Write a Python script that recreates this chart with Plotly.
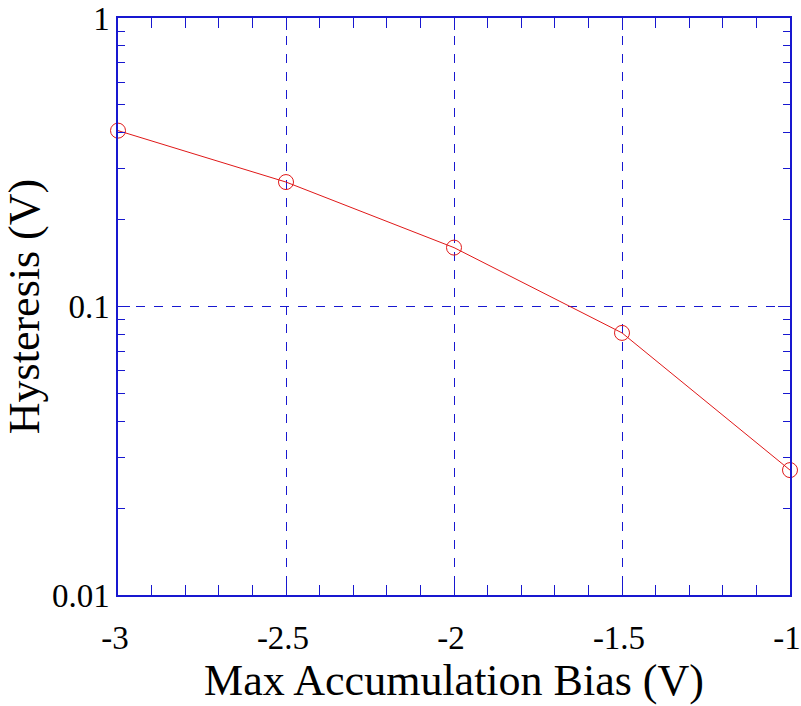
import plotly.graph_objects as go

bias = [-3, -2.5, -2, -1.5, -1]
hysteresis = [0.407, 0.270, 0.160, 0.081, 0.0271]
x_ticks = [-3, -2.5, -2, -1.5, -1]
x_tick_labels = ["-3", "-2.5", "-2", "-1.5", "-1"]
y_ticks = [0.01, 0.1, 1]
y_tick_labels = ["0.01", "0.1", "1"]

FONT = "Liberation Serif"
BLUE = "#1818d0"
RED = "#e01818"

fig = go.Figure()
fig.add_trace(go.Scatter(
    x=bias, y=hysteresis, mode="lines+markers",
    line=dict(color=RED, width=1),
    marker=dict(symbol="circle-open", size=15, color=RED, line=dict(width=1, color=RED)),
    cliponaxis=False, showlegend=False,
))

fig.update_layout(
    width=801, height=706,
    margin=dict(l=118, r=11, t=18, b=111),
    paper_bgcolor="white", plot_bgcolor="white",
    font=dict(family=FONT, color="black", size=33),
)
fig.update_xaxes(
    range=[-3, -1], tickvals=x_ticks, ticktext=x_tick_labels,
    ticks="inside", ticklen=12, tickcolor=BLUE, tickwidth=1,
    showline=True, linecolor=BLUE, linewidth=1.5, mirror="allticks",
    showgrid=True, gridcolor=BLUE, griddash="dash", gridwidth=1,
    zeroline=False, automargin=False, ticklabelstandoff=13,
    ticklabeloverflow="allow", ticklabelshift=-3,
    tickfont=dict(family=FONT, size=33, color="black"),
    minor=dict(dtick=0.1, ticks="inside", ticklen=10, tickcolor=BLUE,
               showgrid=False, gridcolor=BLUE),
    title=dict(text="Max Accumulation Bias (V)", font=dict(family=FONT, size=44), standoff=2),
)
fig.update_yaxes(
    type="log", range=[-2, 0], tickvals=y_ticks, ticktext=y_tick_labels,
    ticks="inside", ticklen=12, tickcolor=BLUE, tickwidth=1,
    showline=True, linecolor=BLUE, linewidth=1.5, mirror="allticks",
    showgrid=True, gridcolor=BLUE, griddash="dash", gridwidth=1,
    zeroline=False, automargin=False, ticklabeloverflow="allow",
    tickfont=dict(family=FONT, size=33, color="black"),
    minor=dict(dtick="D1", ticks="inside", ticklen=7, tickcolor=BLUE,
               showgrid=False, gridcolor=BLUE),
    title=dict(text="Hysteresis (V)", font=dict(family=FONT, size=44), standoff=10),
)

fig.write_html("out.html", config={"displayModeBar": False},
               post_script="document.body.style.margin='0';document.body.style.overflow='hidden';")
